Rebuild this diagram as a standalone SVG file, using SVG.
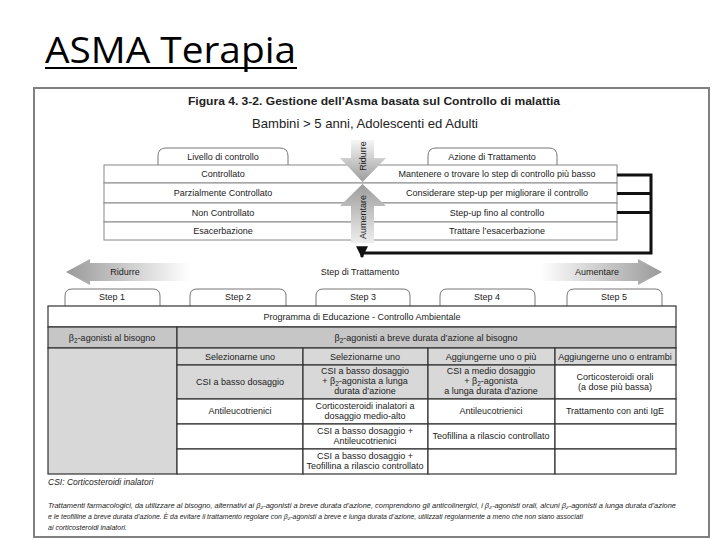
<svg xmlns="http://www.w3.org/2000/svg" width="720" height="540" viewBox="0 0 720 540">
<defs>
<linearGradient id="gDown" x1="0" y1="0" x2="0" y2="1"><stop offset="0" stop-color="#f6f6f6"/><stop offset="1" stop-color="#9c9c9c"/></linearGradient>
<linearGradient id="gUp" x1="0" y1="0" x2="0" y2="1"><stop offset="0" stop-color="#9c9c9c"/><stop offset="1" stop-color="#eeeeee"/></linearGradient>
<linearGradient id="gLeft" x1="0" y1="0" x2="1" y2="0"><stop offset="0" stop-color="#9a9a9a"/><stop offset="1" stop-color="#ffffff"/></linearGradient>
<linearGradient id="gRight" x1="0" y1="0" x2="1" y2="0"><stop offset="0" stop-color="#ffffff"/><stop offset="1" stop-color="#9a9a9a"/></linearGradient>
<marker id="ah" viewBox="0 0 10 10" refX="9" refY="5" markerWidth="4" markerHeight="4" orient="auto" markerUnits="strokeWidth"><path d="M0,0 L10,5 L0,10 z" fill="#111"/></marker>
</defs>
<style>
text{font-family:"Liberation Sans Narrow","Liberation Sans",Arial,sans-serif;fill:#222;font-size:9px}
.c{text-anchor:middle}
.tab{fill:#fff;stroke:#777;stroke-width:1}
.row{fill:#fff;stroke:#888;stroke-width:1}
.cell{stroke:#333;stroke-width:1.2}
.w{fill:#fff}
.g{fill:#d8d8d8}
.g2{fill:#c6c6c6}
.conn{fill:none;stroke:#111;stroke-width:3}
.note{font-style:italic;font-size:7px}
</style>
<rect width="720" height="540" fill="#fff"/>
<g id="title">
<text x="45" y="63" style="font-family:'Open Sans','Noto Sans',sans-serif;font-size:36px;fill:#000" textLength="251" lengthAdjust="spacingAndGlyphs">ASMA Terapia</text>
<rect x="45" y="67" width="252" height="2" fill="#000"/>
</g>
<rect id="frame" x="34" y="88" width="675" height="449" fill="none" stroke="#808080" stroke-width="2"/>
<g id="heading">
<text x="374" y="105" class="c" style="font-family:'Liberation Sans',Arial,sans-serif;font-weight:bold;font-size:11px" textLength="372" lengthAdjust="spacingAndGlyphs">Figura 4. 3-2. Gestione dell’Asma basata sul Controllo di malattia</text>
<text x="365" y="128" class="c" style="font-family:'Liberation Sans',Arial,sans-serif;font-size:13px" textLength="226" lengthAdjust="spacingAndGlyphs">Bambini &gt; 5 anni, Adolescenti ed Adulti</text>
</g>
<g id="control-table">
<path class="tab" d="M158,165 V156 Q158,148 166,148 H280 Q288,148 288,156 V165"/>
<text x="223" y="160" class="c">Livello di controllo</text>
<path class="tab" d="M428,165 V156 Q428,148 436,148 H549 Q557,148 557,156 V165"/>
<text x="492" y="160" class="c">Azione di Trattamento</text>
<rect class="row" x="104" y="165" width="513" height="18"/>
<rect class="row" x="104" y="183" width="513" height="20"/>
<rect class="row" x="104" y="203" width="513" height="19"/>
<rect class="row" x="104" y="222" width="513" height="18"/>
<text x="223" y="177" class="c">Controllato</text>
<text x="223" y="196" class="c">Parzialmente Controllato</text>
<text x="223" y="216" class="c">Non Controllato</text>
<text x="223" y="234" class="c">Esacerbazione</text>
<text x="497" y="177" class="c">Mantenere o trovare lo step di controllo più basso</text>
<text x="497" y="196" class="c">Considerare step-up per migliorare il controllo</text>
<text x="497" y="216" class="c">Step-up fino al controllo</text>
<text x="497" y="234" class="c">Trattare l’esacerbazione</text>
</g>
<g id="arrow-ridurre">
<path d="M351,140 H374 V158 H386 L362.5,182 L340,158 H351 Z" fill="url(#gDown)"/>
<text transform="translate(366,156) rotate(-90)" class="c">Ridurre</text>
</g>
<g id="arrow-aumentare">
<path d="M362.5,184 L386,206 H374 V243 H351 V206 H340 Z" fill="url(#gUp)"/>
<text transform="translate(366,217) rotate(-90)" class="c">Aumentare</text>
</g>
<g id="connectors">
<path class="conn" d="M617,175 H651 V253 H362 V257" marker-end="url(#ah)"/>
<path class="conn" d="M617,193.5 H651"/>
<path class="conn" d="M617,212.5 H651"/>
</g>
<g id="step-arrows">
<path d="M66,272 L90,259 V263 H190 V281 H90 V285 Z" fill="url(#gLeft)"/>
<text x="125" y="275" class="c">Ridurre</text>
<text x="360" y="275" class="c">Step di Trattamento</text>
<path d="M662,272 L638,259 V263 H540 V281 H638 V285 Z" fill="url(#gRight)"/>
<text x="597" y="275" class="c">Aumentare</text>
</g>
<g id="steps">
<path class="tab" d="M65,306 V296 Q65,289 72,289 H153 Q160,289 160,296 V306"/>
<text x="112" y="300" class="c">Step 1</text>
<path class="tab" d="M190,306 V296 Q190,289 197,289 H279 Q286,289 286,296 V306"/>
<text x="238" y="300" class="c">Step 2</text>
<path class="tab" d="M316,306 V296 Q316,289 323,289 H403 Q410,289 410,296 V306"/>
<text x="363" y="300" class="c">Step 3</text>
<path class="tab" d="M440,306 V296 Q440,289 447,289 H528 Q535,289 535,296 V306"/>
<text x="487" y="300" class="c">Step 4</text>
<path class="tab" d="M567,306 V296 Q567,289 574,289 H655 Q662,289 662,296 V306"/>
<text x="614" y="300" class="c">Step 5</text>
</g>
<g id="treatment-table">
<rect class="cell w" x="48" y="306" width="628" height="21"/>
<text x="362" y="320" class="c">Programma di Educazione - Controllo Ambientale</text>
<rect class="cell g2" x="48" y="327" width="129" height="21"/>
<rect class="cell g2" x="177" y="327" width="499" height="21"/>
<text x="112" y="341" class="c">β<tspan font-size="6.5" dy="2">2</tspan><tspan dy="-2">-agonisti al bisogno</tspan></text>
<text x="426" y="341" class="c">β<tspan font-size="6.5" dy="2">2</tspan><tspan dy="-2">-agonisti a breve durata d’azione al bisogno</tspan></text>
<rect class="cell g" x="48" y="348" width="129" height="126"/>
<rect class="cell g" x="177" y="348" width="126" height="17"/>
<rect class="cell g" x="303" y="348" width="125" height="17"/>
<rect class="cell g" x="428" y="348" width="127" height="17"/>
<rect class="cell g" x="555" y="348" width="121" height="17"/>
<text x="240" y="360" class="c">Selezionarne uno</text>
<text x="365" y="360" class="c">Selezionarne uno</text>
<text x="491" y="360" class="c">Aggiungerne uno o più</text>
<text x="615" y="360" class="c">Aggiungerne uno o entrambi</text>
<rect class="cell g" x="177" y="365" width="126" height="34"/>
<rect class="cell g" x="303" y="365" width="125" height="34"/>
<rect class="cell g" x="428" y="365" width="127" height="34"/>
<rect class="cell w" x="555" y="365" width="121" height="34"/>
<text x="240" y="385" class="c">CSI a basso dosaggio</text>
<text x="365" y="374" class="c">CSI a basso dosaggio</text>
<text x="365" y="384" class="c">+ β<tspan font-size="6.5" dy="2">2</tspan><tspan dy="-2">-agonista a lunga</tspan></text>
<text x="365" y="394" class="c">durata d’azione</text>
<text x="491" y="374" class="c">CSI a medio dosaggio</text>
<text x="491" y="384" class="c">+ β<tspan font-size="6.5" dy="2">2</tspan><tspan dy="-2">-agonista</tspan></text>
<text x="491" y="394" class="c">a lunga durata d’azione</text>
<text x="615" y="380" class="c">Corticosteroidi orali</text>
<text x="615" y="390" class="c">(a dose più bassa)</text>
<rect class="cell w" x="177" y="399" width="126" height="25"/>
<rect class="cell w" x="303" y="399" width="125" height="25"/>
<rect class="cell w" x="428" y="399" width="127" height="25"/>
<rect class="cell w" x="555" y="399" width="121" height="25"/>
<text x="240" y="414" class="c">Antileucotrienici</text>
<text x="365" y="409" class="c">Corticosteroidi inalatori a</text>
<text x="365" y="419" class="c">dosaggio medio-alto</text>
<text x="491" y="414" class="c">Antileucotrienici</text>
<text x="615" y="414" class="c">Trattamento con anti IgE</text>
<rect class="cell w" x="177" y="424" width="126" height="25"/>
<rect class="cell w" x="303" y="424" width="125" height="25"/>
<rect class="cell w" x="428" y="424" width="127" height="25"/>
<rect class="cell w" x="555" y="424" width="121" height="25"/>
<text x="365" y="434" class="c">CSI a basso dosaggio +</text>
<text x="365" y="444" class="c">Antileucotrienici</text>
<text x="491" y="439" class="c">Teofillina a rilascio controllato</text>
<rect class="cell w" x="177" y="449" width="126" height="25"/>
<rect class="cell w" x="303" y="449" width="125" height="25"/>
<rect class="cell w" x="428" y="449" width="127" height="25"/>
<rect class="cell w" x="555" y="449" width="121" height="25"/>
<text x="365" y="459" class="c">CSI a basso dosaggio +</text>
<text x="365" y="469" class="c">Teofillina a rilascio controllato</text>
</g>
<g id="notes">
<text x="48" y="485" style="font-style:italic;font-size:8.5px">CSI: Corticosteroidi inalatori</text>
<text x="48" y="508" class="note" textLength="628" lengthAdjust="spacingAndGlyphs">Trattamenti farmacologici, da utilizzare al bisogno, alternativi ai β₂-agonisti a breve durata d’azione, comprendono gli anticolinergici, i β₂-agonisti orali, alcuni β₂-agonisti a lunga durata d’azione</text>
<text x="48" y="519" class="note" textLength="535" lengthAdjust="spacingAndGlyphs">e le teofilline a breve durata d’azione. È da evitare il trattamento regolare con β₂-agonisti a breve e lunga durata d’azione, utilizzati regolarmente a meno che non siano associati</text>
<text x="48" y="530" class="note">ai corticosteroidi inalatori.</text>
</g>
</svg>
